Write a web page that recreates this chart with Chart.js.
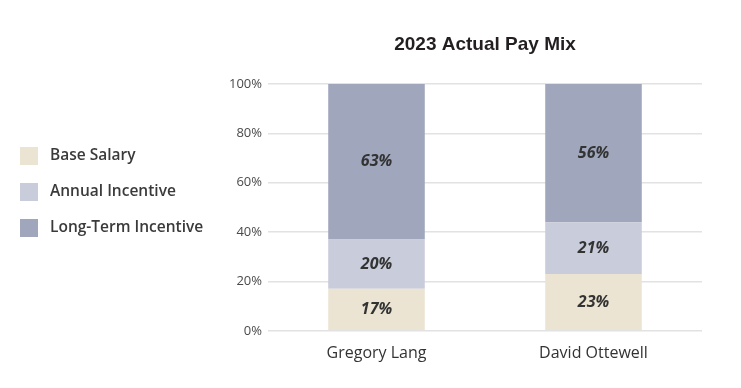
<!DOCTYPE html>
<html lang="en">
<head>
    <meta charset="UTF-8">
    <title>2023 Actual Pay Mix</title>
    <script src="https://cdn.jsdelivr.net/npm/chart.js"></script>
    <style>
        body {
            margin: 0;
            background: #ffffff;
        }

        #wrap {
            width: 741px;
            height: 388px;
        }
    </style>
</head>
<body>
    <div id="wrap">
        <canvas id="chart" width="741" height="388"></canvas>
    </div>

    <script>
        // Data
        const executives = ["Gregory Lang", "David Ottewell"];
        const baseSalary = [17, 23];
        const annualIncentive = [20, 21];
        const longTermIncentive = [63, 56];
        const seriesNames = ["Base Salary", "Annual Incentive", "Long-Term Incentive"];
        const seriesColors = ["#ebe4d2", "#c9ccda", "#a0a7bd"];
        const chartTitle = "2023 Actual Pay Mix";

        // Title, side legend and in-bar labels
        const decorations = {
            id: "decorations",
            afterDatasetsDraw(chart) {
                const ctx = chart.ctx;
                const area = chart.chartArea;
                ctx.save();

                // bar labels
                ctx.font = "italic bold 16px 'Open Sans', sans-serif";
                ctx.fillStyle = "#333333";
                ctx.textAlign = "center";
                ctx.textBaseline = "middle";
                chart.data.datasets.forEach((ds, i) => {
                    chart.getDatasetMeta(i).data.forEach((bar, j) => {
                        const mid = (bar.y + bar.base) / 2;
                        ctx.fillText(ds.data[j] + "%", bar.x, mid);
                    });
                });

                // title
                ctx.font = "bold 19px 'Liberation Sans', Arial, sans-serif";
                ctx.fillStyle = "#231f20";
                ctx.fillText(chartTitle, (area.left + area.right) / 2, 45);

                // legend
                ctx.font = "600 15.5px 'Open Sans', sans-serif";
                ctx.textAlign = "left";
                chart.data.datasets.forEach((ds, i) => {
                    const y = 156 + i * 36;
                    ctx.fillStyle = ds.backgroundColor;
                    ctx.fillRect(20, y - 9, 18, 18);
                    ctx.fillStyle = "#3a3a3a";
                    ctx.fillText(ds.label, 50, y);
                });

                ctx.restore();
            }
        };

        const values = [baseSalary, annualIncentive, longTermIncentive];

        new Chart(document.getElementById("chart"), {
            type: "bar",
            data: {
                labels: executives,
                datasets: values.map((v, i) => ({
                    label: seriesNames[i],
                    data: v,
                    backgroundColor: seriesColors[i],
                    borderWidth: 0,
                    barPercentage: 0.445,
                    categoryPercentage: 1
                }))
            },
            options: {
                responsive: false,
                animation: false,
                layout: {
                    padding: { left: 215, right: 39, top: 84, bottom: 20 }
                },
                plugins: {
                    legend: { display: false },
                    title: { display: false },
                    tooltip: { enabled: false }
                },
                scales: {
                    x: {
                        stacked: true,
                        grid: { display: false },
                        border: { display: false },
                        ticks: {
                            color: "#333333",
                            font: { family: "'Open Sans', sans-serif", size: 16 },
                            padding: 5
                        }
                    },
                    y: {
                        stacked: true,
                        min: 0,
                        max: 100,
                        afterFit(scale) { scale.width = 53; },
                        border: { display: false },
                        grid: {
                            color: "#e2e2e2",
                            lineWidth: 1.5,
                            drawTicks: false
                        },
                        ticks: {
                            stepSize: 20,
                            padding: 6,
                            color: "#4a4a4a",
                            font: { family: "'Open Sans', sans-serif", size: 13 },
                            callback: v => v + "%"
                        }
                    }
                }
            },
            plugins: [decorations]
        });
    </script>
</body>
</html>
